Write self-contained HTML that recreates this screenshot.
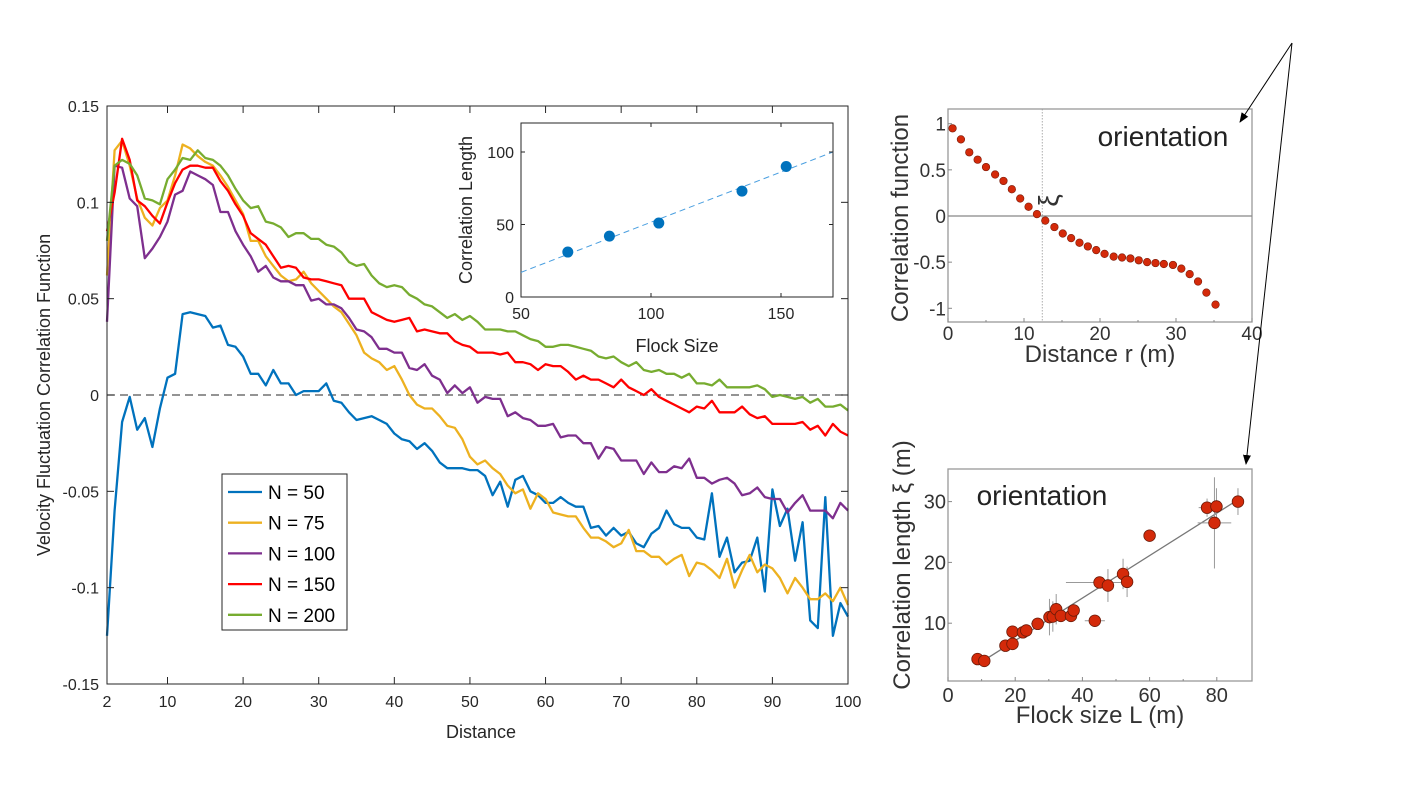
<!DOCTYPE html>
<html><head><meta charset="utf-8"><style>
body{margin:0;background:#fff}
svg{display:block;font-family:"Liberation Sans",sans-serif}
</style></head><body>
<svg id="s" width="1410" height="807" viewBox="0 0 1410 807"></svg>
<script>
// ---- main chart data ----
const distances = Array.from({length:99},(_,i)=>i+2);
const seriesNames = ["N = 50","N = 75","N = 100","N = 150","N = 200"];
const seriesColors = ["#0072BD","#EDB120","#7E2F8E","#FF0000","#77AC30"];
const n50 = [-0.125,-0.060,-0.014,-0.001,-0.018,-0.012,-0.027,-0.007,0.009,0.011,0.042,0.043,0.042,0.041,0.035,0.036,0.026,0.025,0.020,0.011,0.011,0.005,0.013,0.006,0.006,0.000,0.002,0.002,0.002,0.006,-0.003,-0.004,-0.009,-0.013,-0.012,-0.011,-0.013,-0.015,-0.020,-0.023,-0.024,-0.028,-0.025,-0.029,-0.035,-0.038,-0.038,-0.038,-0.039,-0.039,-0.042,-0.052,-0.045,-0.058,-0.044,-0.042,-0.050,-0.052,-0.056,-0.056,-0.053,-0.056,-0.058,-0.058,-0.069,-0.068,-0.073,-0.069,-0.073,-0.071,-0.077,-0.079,-0.072,-0.069,-0.060,-0.067,-0.069,-0.069,-0.074,-0.075,-0.051,-0.084,-0.074,-0.092,-0.087,-0.086,-0.074,-0.102,-0.049,-0.068,-0.059,-0.086,-0.066,-0.117,-0.121,-0.053,-0.125,-0.108,-0.115];
const n75 = [0.062,0.127,0.132,0.119,0.102,0.092,0.088,0.097,0.101,0.114,0.130,0.128,0.124,0.121,0.119,0.114,0.108,0.101,0.094,0.080,0.080,0.072,0.067,0.062,0.059,0.060,0.064,0.058,0.054,0.050,0.046,0.043,0.037,0.031,0.022,0.019,0.017,0.013,0.015,0.008,0.000,-0.005,-0.007,-0.007,-0.011,-0.016,-0.017,-0.023,-0.032,-0.036,-0.034,-0.038,-0.041,-0.047,-0.051,-0.049,-0.059,-0.051,-0.054,-0.061,-0.062,-0.063,-0.063,-0.069,-0.074,-0.074,-0.076,-0.079,-0.077,-0.070,-0.081,-0.081,-0.084,-0.084,-0.088,-0.085,-0.083,-0.094,-0.087,-0.088,-0.091,-0.095,-0.085,-0.100,-0.091,-0.083,-0.092,-0.088,-0.090,-0.095,-0.103,-0.095,-0.100,-0.106,-0.106,-0.103,-0.107,-0.100,-0.109];
const n100 = [0.038,0.119,0.118,0.102,0.098,0.071,0.076,0.082,0.090,0.104,0.106,0.116,0.114,0.112,0.109,0.095,0.095,0.085,0.078,0.072,0.064,0.067,0.061,0.059,0.059,0.057,0.057,0.049,0.050,0.047,0.047,0.045,0.040,0.034,0.033,0.030,0.024,0.024,0.022,0.022,0.014,0.013,0.016,0.010,0.008,0.001,0.005,0.001,0.004,-0.004,-0.001,-0.002,-0.002,-0.011,-0.009,-0.012,-0.013,-0.016,-0.016,-0.015,-0.022,-0.021,-0.021,-0.025,-0.025,-0.033,-0.027,-0.028,-0.034,-0.034,-0.034,-0.041,-0.035,-0.040,-0.040,-0.037,-0.038,-0.033,-0.043,-0.043,-0.046,-0.044,-0.043,-0.046,-0.052,-0.051,-0.048,-0.053,-0.054,-0.054,-0.061,-0.056,-0.052,-0.060,-0.060,-0.060,-0.064,-0.056,-0.060];
const n150 = [0.085,0.105,0.133,0.122,0.101,0.098,0.093,0.089,0.100,0.110,0.117,0.119,0.119,0.118,0.118,0.111,0.106,0.099,0.093,0.084,0.081,0.078,0.072,0.066,0.067,0.066,0.061,0.060,0.060,0.059,0.058,0.057,0.050,0.050,0.050,0.043,0.041,0.039,0.038,0.039,0.040,0.033,0.034,0.033,0.032,0.032,0.028,0.026,0.025,0.022,0.022,0.022,0.021,0.022,0.017,0.017,0.016,0.013,0.016,0.015,0.015,0.012,0.008,0.010,0.008,0.008,0.006,0.004,0.008,0.004,0.002,0.000,0.003,-0.001,-0.003,-0.005,-0.007,-0.009,-0.006,-0.007,-0.003,-0.009,-0.009,-0.009,-0.006,-0.010,-0.012,-0.011,-0.015,-0.015,-0.015,-0.015,-0.014,-0.018,-0.016,-0.021,-0.015,-0.019,-0.021];
const n200 = [0.080,0.119,0.122,0.120,0.114,0.102,0.101,0.099,0.112,0.117,0.123,0.122,0.127,0.123,0.122,0.119,0.114,0.107,0.101,0.097,0.098,0.090,0.089,0.087,0.082,0.084,0.084,0.081,0.081,0.078,0.077,0.074,0.069,0.067,0.068,0.062,0.058,0.056,0.057,0.056,0.052,0.050,0.047,0.046,0.043,0.040,0.042,0.039,0.041,0.038,0.034,0.034,0.034,0.033,0.033,0.031,0.029,0.028,0.025,0.025,0.026,0.026,0.025,0.024,0.023,0.020,0.019,0.020,0.017,0.015,0.017,0.013,0.012,0.013,0.011,0.011,0.009,0.011,0.006,0.006,0.005,0.008,0.004,0.004,0.004,0.004,0.005,0.003,-0.001,0.000,-0.001,-0.002,-0.001,-0.004,-0.002,-0.006,-0.006,-0.005,-0.008];
const xTicks = [2,10,20,30,40,50,60,70,80,90,100];
const yTicks = [-0.15,-0.1,-0.05,0,0.05,0.1,0.15];
const yTickLabels = ["-0.15","-0.1","-0.05","0","0.05","0.1","0.15"];
// ---- inset data ----
const flockSize = [68,84,103,135,152];
const corrLength = [31,42,51,73,90];
const fitX = [50,170];
const fitY = [17,100];
const insetXTicks = [50,100,150];
const insetYTicks = [0,50,100];
// ---- top-right panel data ----
const corrR = [0.6,1.7,2.8,3.9,5.0,6.2,7.3,8.4,9.5,10.6,11.7,12.8,14.0,15.1,16.2,17.3,18.4,19.5,20.6,21.8,22.9,24.0,25.1,26.2,27.3,28.4,29.6,30.7,31.8,32.9,34.0,35.2];
const corrC = [0.95,0.83,0.69,0.61,0.53,0.45,0.38,0.29,0.19,0.10,0.02,-0.05,-0.12,-0.19,-0.24,-0.29,-0.33,-0.37,-0.41,-0.44,-0.45,-0.46,-0.48,-0.50,-0.51,-0.52,-0.53,-0.57,-0.63,-0.71,-0.83,-0.96];
const xiMark = [12.4];
// ---- bottom-right panel data ----
const flockL = [8.8,10.8,17.1,19.2,19.2,22.3,23.3,26.7,30.2,31.2,32.2,33.6,36.6,37.4,43.7,45.1,47.6,52.1,53.3,60.0,77.1,79.9,79.3,86.3];
const xiL = [4.1,3.8,6.3,6.6,8.6,8.5,8.8,9.9,11.0,11.1,12.3,11.2,11.2,12.1,10.4,16.7,16.2,18.1,16.8,24.4,29.0,29.2,26.5,30.0];
const xErr = [0,0,1.5,0,0,0,0,2,0,0,0,0,0,0,3,10,0,0,0,0,2.5,0,5,0];
const yErr = [0,0,0,0,0,0,0,0,3,2.5,2.5,0,0,0,0,0,2.7,2.5,2.5,0,1.5,3,7.5,2.2];
const lineL = [9,86];
const lineXi = [3.3,30.2];

const S = document.getElementById('s');
const NS = 'http://www.w3.org/2000/svg';
function mk(tag, at, parent){const e=document.createElementNS(NS,tag);for(const k in at)e.setAttribute(k,at[k]);(parent||S).appendChild(e);return e;}
function txt(str, at, parent){const e=mk('text',at,parent);e.textContent=str;return e;}

// ===== Main chart =====
const L=107,R=848,T=106,B=684;
const X=v=>L+(v-2)*(R-L)/98;
const Y=v=>T+(0.15-v)*(B-T)/0.3;
const main=mk('g',{});


mk('rect',{x:L,y:T,width:R-L,height:B-T,fill:'#fff',stroke:'none'},main);
const zl=mk('line',{x1:L,x2:R,y1:Y(0),y2:Y(0),stroke:'#555','stroke-width':1.3,'stroke-dasharray':'8,5'},main);


const allSeries=[n50,n75,n100,n150,n200];
allSeries.forEach((arr,si)=>{
  const d=arr.map((v,i)=>(i?'L':'M')+X(distances[i]).toFixed(1)+','+Y(v).toFixed(1)).join('');
  const p=mk('path',{d:d,fill:'none',stroke:seriesColors[si],'stroke-width':2.3,'stroke-linejoin':'round'},main);
  
  
});
mk('rect',{x:L,y:T,width:R-L,height:B-T,fill:'none',stroke:'#262626','stroke-width':1},main);
xTicks.forEach(t=>{
  mk('line',{x1:X(t),x2:X(t),y1:B,y2:B-7,stroke:'#262626'},main);
  mk('line',{x1:X(t),x2:X(t),y1:T,y2:T+7,stroke:'#262626'},main);
  const e=txt(String(t),{x:X(t),y:B+23,'text-anchor':'middle','font-size':16,fill:'#262626'},main);
  
  
});
yTicks.forEach((t,i)=>{
  mk('line',{x1:L,x2:L+7,y1:Y(t),y2:Y(t),stroke:'#262626'},main);
  mk('line',{x1:R,x2:R-7,y1:Y(t),y2:Y(t),stroke:'#262626'},main);
  const e=txt(yTickLabels[i],{x:L-8,y:Y(t)+6,'text-anchor':'end','font-size':16,fill:'#262626'},main);
  
  
});
const xt=txt('Distance',{x:481,y:738,'text-anchor':'middle','font-size':18,fill:'#262626'},main);


const yt=txt('Velocity Fluctuation Correlation Function',{x:0,y:0,transform:'translate(50,395) rotate(-90)','text-anchor':'middle','font-size':18,fill:'#262626'},main);



const lg=mk('g',{},main);


mk('rect',{x:222,y:474,width:125,height:156,fill:'#fff',stroke:'#262626'},lg);
seriesNames.forEach((n,i)=>{
  const yy=492+i*30.7;
  const g=mk('g',{},lg);
  
  
  mk('line',{x1:228,x2:262,y1:yy,y2:yy,stroke:seriesColors[i],'stroke-width':2.3},g);
  txt(n,{x:268,y:yy+7,'font-size':19,fill:'#000'},g);
});

// ===== Inset =====
const iL=521,iR=833,iT=123,iB=297;
const IX=v=>iL+(v-50)*(iR-iL)/120;
const IY=v=>iB-v*(iB-iT)/120;
const ins=mk('g',{});


mk('rect',{x:iL,y:iT,width:iR-iL,height:iB-iT,fill:'#fff',stroke:'#262626'},ins);
const fl=mk('line',{x1:IX(fitX[0]),y1:IY(fitY[0]),x2:IX(fitX[1]),y2:IY(fitY[1]),stroke:'#4a9fe0','stroke-width':1,'stroke-dasharray':'6,4'},ins);


flockSize.forEach((v,i)=>{
  const c=mk('circle',{cx:IX(v),cy:IY(corrLength[i]),r:5.5,fill:'#0072BD'},ins);
  
  
});
insetXTicks.forEach(t=>{
  mk('line',{x1:IX(t),x2:IX(t),y1:iB,y2:iB-4,stroke:'#262626'},ins);
  mk('line',{x1:IX(t),x2:IX(t),y1:iT,y2:iT+4,stroke:'#262626'},ins);
  txt(String(t),{x:IX(t),y:iB+22,'text-anchor':'middle','font-size':16,fill:'#262626'},ins);
});
insetYTicks.forEach(t=>{
  mk('line',{x1:iL,x2:iL+4,y1:IY(t),y2:IY(t),stroke:'#262626'},ins);
  mk('line',{x1:iR,x2:iR-4,y1:IY(t),y2:IY(t),stroke:'#262626'},ins);
  txt(String(t),{x:iL-7,y:IY(t)+6,'text-anchor':'end','font-size':16,fill:'#262626'},ins);
});
const ixt=txt('Flock Size',{x:677,y:352,'text-anchor':'middle','font-size':18,fill:'#262626'},ins);


const iyt=txt('Correlation Length',{x:0,y:0,transform:'translate(472,210) rotate(-90)','text-anchor':'middle','font-size':18,fill:'#262626'},ins);



// ===== Top-right panel =====
const aL=948,aR=1252,aT=109,aB=322;
const AX=v=>aL+v*(aR-aL)/40;
const AY=v=>216-v*92.3;
const tr=mk('g',{});


mk('rect',{x:aL,y:aT,width:aR-aL,height:aB-aT,fill:'#fff',stroke:'#999','stroke-width':1.3},tr);
mk('line',{x1:aL,x2:aR,y1:AY(0),y2:AY(0),stroke:'#888','stroke-width':1.3},tr);
mk('line',{x1:AX(xiMark[0]),x2:AX(xiMark[0]),y1:aT,y2:aB,stroke:'#999','stroke-width':0.8,'stroke-dasharray':'1.5,1.5'},tr);
txt('ξ',{x:0,y:0,transform:`translate(${AX(xiMark[0])+16},${AY(0.1)}) rotate(-90)`,'font-size':28,fill:'#333'},tr);
[0,10,20,30,40].forEach(t=>{
  mk('line',{x1:AX(t),x2:AX(t),y1:aB,y2:aB-4,stroke:'#888'},tr);
  txt(String(t),{x:AX(t),y:aB+18,'text-anchor':'middle','font-size':19,fill:'#333'},tr);
});
[5,15,25,35].forEach(t=>mk('line',{x1:AX(t),x2:AX(t),y1:aB,y2:aB-2,stroke:'#888'},tr));
[[-1,'-1'],[-0.5,'-0.5'],[0,'0'],[0.5,'0.5'],[1,'1']].forEach(([t,l])=>{
  mk('line',{x1:aL,x2:aL+4,y1:AY(t),y2:AY(t),stroke:'#888'},tr);
  txt(l,{x:aL-2,y:AY(t)+7,'text-anchor':'end','font-size':19,fill:'#333'},tr);
});
corrR.forEach((r,i)=>{
  const c=mk('circle',{cx:AX(r),cy:AY(corrC[i]),r:3.8,fill:'#d42a0a',stroke:'#7a1a08','stroke-width':0.6},tr);
  
  
});
txt('orientation',{x:1163,y:146,'text-anchor':'middle','font-size':28,fill:'#222'},tr);
txt('Distance  r (m)',{x:1100,y:362,'text-anchor':'middle','font-size':24,fill:'#333'},tr);
txt('Correlation function',{x:0,y:0,transform:'translate(908,218) rotate(-90)','text-anchor':'middle','font-size':24,fill:'#333'},tr);

// ===== Bottom-right panel =====
const bL=948,bR=1252,bT=469,bB=681;
const BX=v=>bL+v*67.2/20;
const BY=v=>bB+3-v*6.08;
const br=mk('g',{});


mk('rect',{x:bL,y:bT,width:bR-bL,height:bB-bT,fill:'#fff',stroke:'#999','stroke-width':1.3},br);
[0,20,40,60,80].forEach(t=>{
  mk('line',{x1:BX(t),x2:BX(t),y1:bB,y2:bB-4,stroke:'#888'},br);
  txt(String(t),{x:BX(t),y:bB+21,'text-anchor':'middle','font-size':20,fill:'#333'},br);
});
[10,30,50,70].forEach(t=>mk('line',{x1:BX(t),x2:BX(t),y1:bB,y2:bB-2,stroke:'#888'},br));
[10,20,30].forEach(t=>{
  mk('line',{x1:bL,x2:bL+4,y1:BY(t),y2:BY(t),stroke:'#888'},br);
  txt(String(t),{x:bL-2,y:BY(t)+7,'text-anchor':'end','font-size':20,fill:'#333'},br);
});
mk('line',{x1:BX(lineL[0]),y1:BY(lineXi[0]),x2:BX(lineL[1]),y2:BY(lineXi[1]),stroke:'#777','stroke-width':1.3},br);
flockL.forEach((v,i)=>{
  if(xErr[i])mk('line',{x1:BX(v-xErr[i]),x2:BX(v+xErr[i]),y1:BY(xiL[i]),y2:BY(xiL[i]),stroke:'#999','stroke-width':1},br);
  if(yErr[i])mk('line',{x1:BX(v),x2:BX(v),y1:BY(xiL[i]-yErr[i]),y2:BY(xiL[i]+yErr[i]),stroke:'#999','stroke-width':1},br);
});
flockL.forEach((v,i)=>{
  const c=mk('circle',{cx:BX(v),cy:BY(xiL[i]),r:5.8,fill:'#d42a0a',stroke:'#6a1a08','stroke-width':0.8},br);
  
  
});
txt('orientation',{x:1042,y:505,'text-anchor':'middle','font-size':28,fill:'#222'},br);
txt('Flock size L (m)',{x:1100,y:723,'text-anchor':'middle','font-size':24,fill:'#333'},br);
txt('Correlation length ξ (m)',{x:0,y:0,transform:'translate(910,565) rotate(-90)','text-anchor':'middle','font-size':24,fill:'#333'},br);

// ===== Arrows =====
const ar=mk('g',{});


const defs=mk('defs',{});
const m=mk('marker',{id:'ah',markerWidth:10,markerHeight:10,refX:9,refY:5,orient:'auto',markerUnits:'userSpaceOnUse'},defs);
mk('path',{d:'M0,1 L10,5 L0,9 Z',fill:'#000'},m);
mk('line',{x1:1292,y1:43,x2:1240,y2:122,stroke:'#000','stroke-width':1,'marker-end':'url(#ah)'},ar);
mk('line',{x1:1292,y1:43,x2:1246,y2:464,stroke:'#000','stroke-width':1,'marker-end':'url(#ah)'},ar);
</script>
</body></html>
